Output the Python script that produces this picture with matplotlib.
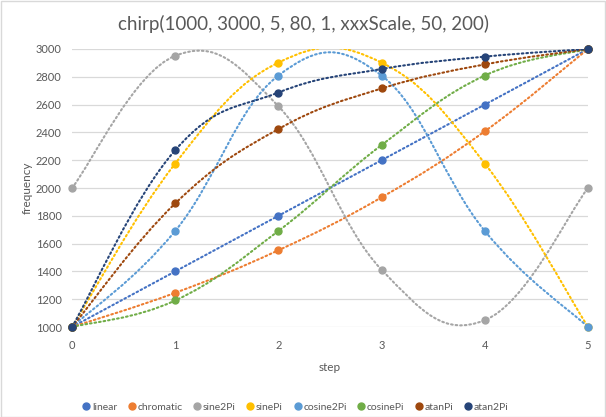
import matplotlib
matplotlib.use("Agg")
import matplotlib.pyplot as plt
from matplotlib.path import Path
from matplotlib.patches import PathPatch
from matplotlib.lines import Line2D
import numpy as np

plt.rcParams['font.family'] = ['Lato', 'DejaVu Sans']

steps = [0, 1, 2, 3, 4, 5]
series_names = ["linear", "chromatic", "sine2Pi", "sinePi", "cosine2Pi", "cosinePi", "atanPi", "atan2Pi"]
linear = [1000, 1400, 1800, 2200, 2600, 3000]
chromatic = [1000, 1246, 1552, 1933, 2408, 3000]
sine2Pi = [2000, 2951, 2588, 1412, 1049, 2000]
sinePi = [1000, 2176, 2902, 2902, 2176, 1000]
cosine2Pi = [1000, 1691, 2809, 2809, 1691, 1000]
cosinePi = [1000, 1191, 1691, 2309, 2809, 3000]
atanPi = [1000, 1889, 2424, 2716, 2889, 3000]
atan2Pi = [1000, 2272, 2687, 2856, 2945, 3000]
colors = ["#4472C4", "#ED7D31", "#A5A5A5", "#FFC000", "#5B9BD5", "#70AD47", "#9E480E", "#264478"]
title = "chirp(1000, 3000, 5, 80, 1, xxxScale, 50, 200)"
yticks = [1000, 1200, 1400, 1600, 1800, 2000, 2200, 2400, 2600, 2800, 3000]

all_series = [linear, chromatic, sine2Pi, sinePi, cosine2Pi, cosinePi, atanPi, atan2Pi]

fig = plt.figure(figsize=(6.06, 4.17), dpi=100)
fig.patch.set_facecolor("white")
ax = fig.add_axes([0.1188, 0.2158, 0.8515, 0.6667])

SMOOTH = 0.2  # spline arm factor (line rendering only)

def smooth_path(xs, ys):
    pts = np.column_stack([xs, ys]).astype(float)
    n = len(pts)
    verts = [pts[0]]
    codes = [Path.MOVETO]
    for i in range(n - 1):
        p0 = pts[i - 1] if i > 0 else pts[i]
        p1 = pts[i]
        p2 = pts[i + 1]
        p3 = pts[i + 2] if i + 2 < n else pts[i + 1]
        c1 = p1 + (p2 - p0) * SMOOTH
        c2 = p2 - (p3 - p1) * SMOOTH
        verts += [c1, c2, p2]
        codes += [Path.CURVE4] * 3
    return Path(verts, codes)

for name, ys, c in zip(series_names, all_series, colors):
    patch = PathPatch(smooth_path(steps, ys), facecolor="none", edgecolor=c,
                      linewidth=1.5, linestyle=(0, (0.8, 1.4)), capstyle="round", zorder=2)
    ax.add_patch(patch)
    ax.plot(steps, ys, linestyle="none", marker="o", markersize=5, color=c,
            zorder=3, label=name, clip_on=False)

ax.set_xlim(0, 5)
ax.set_ylim(1000, 3000)
ax.set_yticks(yticks)
ax.set_xticks(steps)
ax.grid(axis="y", color="#D9D9D9", linewidth=0.9)
ax.set_axisbelow(True)
for s in ax.spines.values():
    s.set_visible(False)
ax.tick_params(length=0, colors="#595959", labelsize=8)
ax.tick_params(axis="x", pad=9)
ax.tick_params(axis="y", pad=7.5)
ax.set_xlabel("step", color="#595959", fontsize=8.5, labelpad=8)
ax.set_ylabel("frequency", color="#595959", fontsize=8.5, labelpad=2)
fig.text(0.5, 0.942, title, ha="center", va="center", fontsize=13.5, color="#595959")

handles = [Line2D([], [], linestyle="none", marker="o", markersize=5, color=c) for c in colors]
fig.legend(handles, series_names, loc="center", bbox_to_anchor=(0.487, 0.024), ncol=8,
           frameon=False, fontsize=7.5, handletextpad=0.1, columnspacing=0.95,
           labelcolor="#595959", handlelength=0.9, borderpad=0)

border = plt.Rectangle((0.001, 0.001), 0.997, 0.997, transform=fig.transFigure,
                       fill=False, edgecolor="#D9D9D9", linewidth=1)
fig.add_artist(border)

fig.savefig("out.png", dpi=100)
